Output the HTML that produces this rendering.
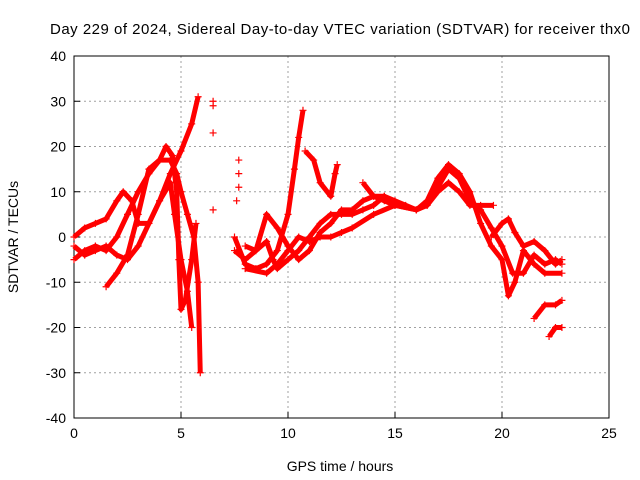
<!DOCTYPE html>
<html><head><meta charset="utf-8"><style>
body{margin:0;background:#fff;}
svg{display:block;font-family:"Liberation Sans",sans-serif;}
</style></head><body>
<svg id="chart" width="640" height="480">
<text x="340" y="34" font-size="15" text-anchor="middle" textLength="580">Day 229 of 2024, Sidereal Day-to-day VTEC variation (SDTVAR) for receiver thx0</text>
<g id="grid"></g>
<g id="axes"></g>
<g id="series"></g>
<text x="340" y="471" font-size="14" text-anchor="middle">GPS time / hours</text>
<text x="18" y="237" font-size="14" text-anchor="middle" transform="rotate(-90 18 237)">SDTVAR / TECUs</text>
</svg>
<script>
const xTicks=[0,5,10,15,20,25];
const yTicks=[-40,-30,-20,-10,0,10,20,30,40];
const trackA=[[0,-2],[0.5,-4],[1,-3],[1.5,-2],[2,-4],[2.5,-5],[3,-2],[3.5,3],[4,8],[4.5,14],[5,19],[5.5,25],[5.8,31]];
const trackB=[[0,-5],[0.5,-3],[1,-2],[1.5,-3],[2,0],[2.5,5],[3,10],[3.5,14],[4,17],[4.5,17],[4.8,14],[5,10],[5.3,5],[5.6,0],[5.8,-10],[5.9,-30]];
const trackC=[[0,0],[0.5,2],[1,3],[1.5,4],[2,8],[2.3,10],[2.7,8],[3,3],[3.5,3],[4,8],[4.5,12],[4.7,5],[5,-5],[5.3,-12],[5.5,-20]];
const trackD=[[1.5,-11],[2,-8],[2.5,-4],[3,5],[3.5,15],[4,17],[4.3,20],[4.6,18],[4.8,10],[4.9,-5],[5,-16],[5.2,-14],[5.5,-5],[5.7,3]];
const trackE=[[7.5,0],[8,-6],[8.5,-7],[9,-6],[9.5,-3],[10,5],[10.3,15],[10.5,22],[10.7,28]];
const trackF=[[7.5,-3],[8,-5],[8.5,-3],[9,-1],[9.3,-5],[9.5,-7],[10,-5],[10.5,-3],[11,0],[11.5,3],[12,5],[12.5,5],[13,5],[13.5,6],[14,7],[14.5,9],[15,8],[15.5,7],[16,6],[16.5,7],[17,11],[17.5,15],[18,13],[18.5,8],[19,6],[19.5,2],[20,-2],[20.5,-8],[21,-8],[21.5,-4],[22,-6],[22.5,-5],[22.8,-6]];
const trackG=[[8,-2],[8.5,-3],[9,5],[9.5,2],[10,-2],[10.5,-5],[11,-3],[11.5,1],[12,3],[12.5,6],[13,6],[13.5,8],[14,9],[14.5,9],[15,7],[16,6],[16.5,8],[17,13],[17.5,16],[18,14],[18.5,10],[19,3],[19.5,-2],[20,-5],[20.3,-13],[20.6,-10],[21,-3],[21.5,-6],[22,-8],[22.8,-8]];
const trackH=[[8,-7],[9,-8],[9.5,-6],[10,-3],[10.5,0],[11,-1],[11.5,0],[12,0],[12.5,1],[13,2],[14,5],[15,7],[16,6],[16.5,7],[17,10],[17.5,12],[18,10],[18.5,7],[19,7],[19.6,7]];
const trackI=[[10.8,19],[11.2,17],[11.5,12],[12,9],[12.2,14],[12.3,16]];
const trackJ=[[13.5,12],[14,9],[14.5,8],[15,7]];
const trackK=[[19.5,0],[20,3],[20.3,4],[20.6,1],[21,-2],[21.5,-1],[22,-3],[22.5,-6],[22.8,-5]];
const trackL=[[21.5,-18],[22,-15],[22.5,-15],[22.8,-14]];
const trackM=[[22.2,-22],[22.5,-20],[22.8,-20]];
const isolated=[[6.5,30],[6.5,29],[6.5,23],[6.5,6],[7.7,17],[7.7,14],[7.7,11],[7.6,8]];
const tracks=[trackA,trackB,trackC,trackD,trackE,trackF,trackG,trackH,trackI,trackJ,trackK,trackL,trackM];

const X0=74,X1=609,Y0=418,Y1=56;
const xs=v=>X0+(v-0)/(25-0)*(X1-X0);
const ys=v=>Y0-(v+40)/80*(Y0-Y1);
const NS="http://www.w3.org/2000/svg";
const mk=(t,a,p)=>{const e=document.createElementNS(NS,t);for(const k in a)e.setAttribute(k,a[k]);p.appendChild(e);return e;};
const grid=document.getElementById('grid'),axes=document.getElementById('axes'),ser=document.getElementById('series');
xTicks.forEach(t=>{
  if(t>0&&t<25){const l=mk('line',{x1:xs(t),x2:xs(t),y1:Y1,y2:Y0,stroke:'#a0a0a0','stroke-dasharray':'2,3'},grid);
  
  }
  const tk=mk('line',{x1:xs(t),x2:xs(t),y1:Y0,y2:Y0-6,stroke:'#000'},axes);
  
  
  const tx=mk('text',{x:xs(t),y:Y0+20,'font-size':14,'text-anchor':'middle'},axes);tx.textContent=t;
  
  
});
yTicks.forEach(t=>{
  if(t>-40&&t<40){const l=mk('line',{x1:X0,x2:X1,y1:ys(t),y2:ys(t),stroke:'#a0a0a0','stroke-dasharray':'2,3'},grid);
  
  }
  const tk=mk('line',{x1:X0,x2:X0+6,y1:ys(t),y2:ys(t),stroke:'#000'},axes);
  
  
  const tx=mk('text',{x:X0-8,y:ys(t)+5,'font-size':14,'text-anchor':'end'},axes);tx.textContent=t;
  
  
});
const fr=mk('rect',{x:X0,y:Y1,width:X1-X0,height:Y0-Y1,fill:'none',stroke:'#000'},axes);


function plus(p,g){const x=xs(p[0]),y=ys(p[1]);
  mk('path',{d:`M${x-3.5},${y}H${x+3.5}M${x},${y-3.5}V${y+3.5}`,stroke:'#f00','stroke-width':1.2},g);}
tracks.forEach(tr=>{
  const g=mk('g',{},ser);
  
  
  mk('polyline',{points:tr.map(p=>xs(p[0])+','+ys(p[1])).join(' '),fill:'none',stroke:'#f00','stroke-width':5,'stroke-linejoin':'round'},g);
  tr.forEach(p=>plus(p,g));
});
const gi=mk('g',{},ser);


isolated.forEach(p=>plus(p,gi));
</script>
</body></html>
